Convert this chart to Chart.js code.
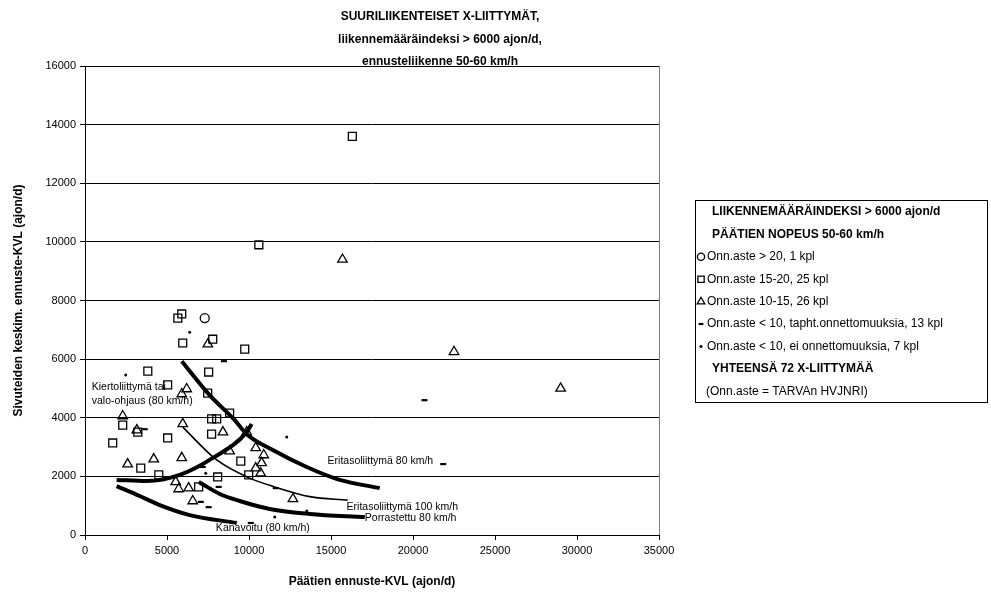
<!DOCTYPE html>
<html>
<head>
<meta charset="utf-8">
<script src="https://cdn.jsdelivr.net/npm/chart.js@4.4.0/dist/chart.umd.min.js"></script>
<style>
  html, body { margin: 0; padding: 0; background: #fff; }
</style>
</head>
<body>
<canvas id="c" width="991" height="592"></canvas>
<script>
// Onn.aste > 20
const circleX = [7300];
const circleY = [7400];
// Onn.aste 15-20
const squareX = [16300, 10600, 5660, 5900, 5960, 7790, 9740, 7540, 3830, 5040, 7480, 8820, 7720, 8030, 2300, 3220, 5040, 1690, 7720, 3400, 4500, 9500, 9980, 8090, 6930];
const squareY = [13600, 9900, 7400, 7540, 6550, 6680, 6340, 5560, 5590, 5120, 4840, 4160, 3960, 3960, 3750, 3510, 3310, 3140, 3440, 2280, 2050, 2520, 2050, 1980, 1640];
// Onn.aste 10-15
const triX = [15700, 22500, 29000, 7490, 6200, 5900, 2300, 5960, 3160, 8410, 9860, 2600, 4190, 5900, 8820, 10410, 10900, 10770, 10410, 10710, 5530, 5710, 6320, 6570, 12680];
const triY = [9400, 6250, 5000, 6510, 4980, 4810, 4060, 3790, 3580, 3510, 3510, 2420, 2590, 2630, 2860, 2970, 2730, 2460, 2280, 2110, 1810, 1570, 1600, 1160, 1230];
// Onn.aste < 10, tapahtuneita onnettomuuksia
const dashX = [8470, 3640, 7180, 8150, 7060, 7540, 11630, 10110, 21840, 20700];
const dashY = [5930, 3610, 2320, 1640, 1130, 950, 1600, 410, 2420, 4600];
// Onn.aste < 10, ei onnettomuuksia
const dotX = [2480, 6380, 7360, 12300, 13520, 11570];
const dotY = [5460, 6920, 2110, 3340, 820, 610];

// raja-arvokäyrät
const eri80X = [5900, 7600, 9130, 9860, 11450, 13520, 15530, 17970];
const eri80Y = [5930, 4770, 3920, 3440, 2900, 2320, 1880, 1600];
const kiertoX = [1930, 3760, 5780, 7800, 9860, 10160];
const kiertoY = [1880, 1840, 2050, 2630, 3510, 3790];
const eri100X = [5960, 8030, 10040, 11570, 13700, 16020];
const eri100Y = [3680, 2560, 1940, 1640, 1310, 1190];
const porrX = [6940, 8220, 9430, 11260, 13700, 17060];
const porrY = [1810, 1400, 1160, 890, 720, 610];
const kanavX = [1930, 3340, 4560, 6380, 9250];
const kanavY = [1670, 1330, 1020, 680, 410];

const xTicks = [0, 5000, 10000, 15000, 20000, 25000, 30000, 35000];
const yTicks = [0, 2000, 4000, 6000, 8000, 10000, 12000, 14000, 16000];

const titleLines = ['SUURILIIKENTEISET X-LIITTYMÄT,', 'liikennemääräindeksi > 6000 ajon/d,', 'ennusteliikenne 50-60 km/h'];
const xTitle = 'Päätien ennuste-KVL (ajon/d)';
const yTitle = 'Sivuteiden keskim. ennuste-KVL (ajon/d)';

const curveLabels = [
  { text: 'Kiertoliittymä tai', x: 410, y: 5050 },
  { text: 'valo-ohjaus (80 km/h)', x: 410, y: 4570 },
  { text: 'Eritasoliittymä 80 km/h', x: 14790, y: 2520 },
  { text: 'Eritasoliittymä 100 km/h', x: 15950, y: 950 },
  { text: 'Porrastettu 80 km/h', x: 17060, y: 580 },
  { text: 'Kanavoitu (80 km/h)', x: 7980, y: 240 }
];

const legendRows = [
  { text: 'LIIKENNEMÄÄRÄINDEKSI > 6000 ajon/d', bold: true },
  { text: 'PÄÄTIEN NOPEUS 50-60 km/h', bold: true },
  { text: 'Onn.aste > 20, 1 kpl', style: 'circle' },
  { text: 'Onn.aste 15-20, 25 kpl', style: 'rect' },
  { text: 'Onn.aste 10-15, 26 kpl', style: 'triangle' },
  { text: 'Onn.aste < 10, tapht.onnettomuuksia, 13 kpl', style: 'line' },
  { text: 'Onn.aste < 10, ei onnettomuuksia, 7 kpl', style: 'dot' },
  { text: 'YHTEENSÄ 72 X-LIITTYMÄÄ', bold: true },
  { text: '(Onn.aste = TARVAn HVJNRI)' }
];

const FONT = '"Liberation Sans", Arial, sans-serif';
const pts = (xs, ys) => xs.map((x, i) => ({ x, y: ys[i] }));

const markerStyles = {
  circle: { pointStyle: 'circle', radius: 4.5, borderWidth: 1.3, fill: false },
  rect: { pointStyle: 'rect', radius: 5.6, borderWidth: 1.3, fill: false },
  triangle: { pointStyle: 'triangle', radius: 5.5, borderWidth: 1.3, fill: false },
  line: { pointStyle: 'line', radius: 3, borderWidth: 2.2, fill: false },
  dot: { pointStyle: 'circle', radius: 1.5, borderWidth: 0, fill: true }
};

function markerSet(label, xs, ys, key) {
  const m = markerStyles[key];
  return {
    label,
    data: pts(xs, ys),
    showLine: false,
    pointStyle: m.pointStyle,
    pointRadius: m.radius,
    pointBorderWidth: m.borderWidth,
    pointBorderColor: '#000',
    pointBackgroundColor: m.fill ? '#000' : 'rgba(0,0,0,0)',
    order: 1
  };
}

function curveSet(label, xs, ys, width) {
  return {
    label,
    data: pts(xs, ys),
    showLine: true,
    borderColor: '#000',
    borderWidth: width,
    pointRadius: 0,
    cubicInterpolationMode: 'monotone',
    order: 2
  };
}

// otsikot, käyrien nimet ja selitelaatikko
const notes = {
  id: 'notes',
  afterDraw(chart) {
    const { ctx, chartArea: a, scales: { x, y } } = chart;
    ctx.save();
    ctx.fillStyle = '#000';

    // kuvaajan oikea reuna
    ctx.strokeStyle = '#808080';
    ctx.lineWidth = 1;
    ctx.beginPath();
    ctx.moveTo(a.right + 0.5, a.top);
    ctx.lineTo(a.right + 0.5, a.bottom);
    ctx.stroke();

    ctx.textBaseline = 'middle';
    ctx.font = 'bold 12px ' + FONT;
    ctx.textAlign = 'center';
    titleLines.forEach((t, i) => ctx.fillText(t, 440, 17 + i * 22.5));

    ctx.font = 'bold 12px ' + FONT;
    ctx.fillText(xTitle, (a.left + a.right) / 2, 582);
    ctx.save();
    ctx.translate(19, (a.top + a.bottom) / 2);
    ctx.rotate(-Math.PI / 2);
    ctx.fillText(yTitle, 0, 0);
    ctx.restore();

    ctx.font = '10.5px ' + FONT;
    ctx.textAlign = 'left';
    curveLabels.forEach(l => ctx.fillText(l.text, x.getPixelForValue(l.x), y.getPixelForValue(l.y)));

    // selite
    const bx = 695, by = 200, bw = 292, bh = 202, rowH = 22.4;
    ctx.fillStyle = '#fff';
    ctx.fillRect(bx, by, bw, bh);
    ctx.strokeStyle = '#000';
    ctx.lineWidth = 1;
    ctx.strokeRect(bx + 0.5, by + 0.5, bw, bh);
    legendRows.forEach((r, i) => {
      const ry = by + 12 + i * rowH;
      ctx.fillStyle = '#000';
      ctx.font = (r.bold ? 'bold ' : '') + '12px ' + FONT;
      if (r.style) {
        const m = markerStyles[r.style];
        ctx.strokeStyle = '#000';
        ctx.fillStyle = m.fill ? '#000' : 'rgba(0,0,0,0)';
        ctx.lineWidth = m.borderWidth || 1;
        Chart.helpers.drawPoint(ctx, {
          pointStyle: m.pointStyle,
          radius: r.style === 'dot' ? 1.5 : m.radius * 0.8,
          borderWidth: m.borderWidth,
          rotation: 0
        }, 701, ry);
        ctx.fillStyle = '#000';
        ctx.fillText(r.text, 707, ry);
      } else {
        ctx.fillText(r.text, r.bold ? 712 : 706, ry);
      }
    });
    ctx.restore();
  }
};

new Chart(document.getElementById('c'), {
  type: 'scatter',
  data: {
    datasets: [
      curveSet('Eritasoliittymä 80 km/h', eri80X, eri80Y, 4),
      curveSet('Kiertoliittymä tai valo-ohjaus (80 km/h)', kiertoX, kiertoY, 4),
      curveSet('Eritasoliittymä 100 km/h', eri100X, eri100Y, 1.6),
      curveSet('Porrastettu 80 km/h', porrX, porrY, 4),
      curveSet('Kanavoitu (80 km/h)', kanavX, kanavY, 4),
      markerSet('Onn.aste > 20', circleX, circleY, 'circle'),
      markerSet('Onn.aste 15-20', squareX, squareY, 'rect'),
      markerSet('Onn.aste 10-15', triX, triY, 'triangle'),
      markerSet('Onn.aste < 10, tapht.onnettomuuksia', dashX, dashY, 'line'),
      markerSet('Onn.aste < 10, ei onnettomuuksia', dotX, dotY, 'dot')
    ]
  },
  options: {
    responsive: false,
    animation: false,
    layout: { padding: { left: 0, top: 66, right: 332, bottom: 0 } },
    plugins: {
      legend: { display: false },
      tooltip: { enabled: false }
    },
    scales: {
      x: {
        type: 'linear',
        min: 0,
        max: 35000,
        afterBuildTicks: s => { s.ticks = xTicks.map(v => ({ value: v })); },
        afterFit: s => { s.height = 57; },
        grid: { drawOnChartArea: false, drawTicks: true, tickLength: 5, color: '#000' },
        border: { color: '#000', width: 1 },
        ticks: { color: '#000', font: { family: FONT, size: 11 }, padding: 4, maxRotation: 0, callback: v => String(v) }
      },
      y: {
        type: 'linear',
        min: 0,
        max: 16000,
        afterBuildTicks: s => { s.ticks = yTicks.map(v => ({ value: v })); },
        afterFit: s => { s.width = 85; },
        grid: { color: '#000', lineWidth: 1, tickLength: 5 },
        border: { color: '#000', width: 1 },
        ticks: { color: '#000', font: { family: FONT, size: 11 }, padding: 4, callback: v => String(v) }
      }
    }
  },
  plugins: [notes]
});
</script>
</body>
</html>
